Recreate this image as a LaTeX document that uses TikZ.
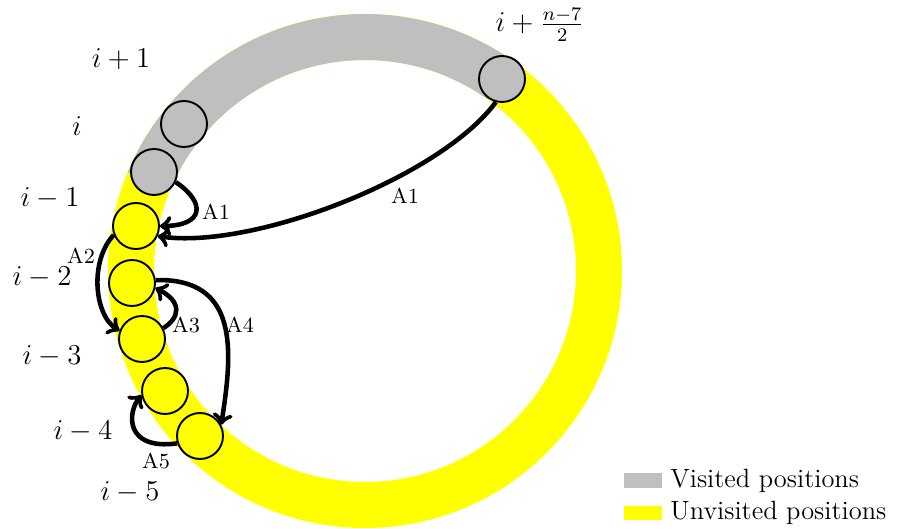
\documentclass[tikz,border=0pt]{standalone}
\definecolor{ringyellow}{RGB}{255,255,0}
\definecolor{ringgray}{RGB}{191,191,191}
\begin{document}
\begin{tikzpicture}[x=0.4167pt,y=-0.4167pt,
  posnode/.style={circle, draw=black, thick, minimum size=19.17pt, inner sep=0pt},
  visited/.style={posnode, fill=ringgray},
  unvisited/.style={posnode, fill=ringyellow},
  idx/.style={font=\fontsize{12}{14}\selectfont, inner sep=0pt},
  alab/.style={font=\fontsize{9}{11}\selectfont, inner sep=0pt},
  arr/.style={->, line width=1.9pt},
  legtext/.style={font=\fontsize{11}{13}\selectfont, anchor=base west, inner sep=0pt}]
\useasboundingbox (0,0) rectangle (897,529);
% ring
\fill[ringyellow, even odd rule] (365,271) circle[radius=257] (365,271) circle[radius=211];
\draw[ringgray, line width=19.17pt] (365,271) ++(-54.5:234) arc[start angle=-54.5, end angle=-157.5, radius=234];
% positions
\node[visited] (vtop) at (502,79) {};
\node[visited] (v1) at (184,124) {};
\node[visited] (v2) at (154,172) {};
\node[unvisited] (u1) at (136,226) {};
\node[unvisited] (u2) at (132,283) {};
\node[unvisited] (u3) at (142,339) {};
\node[unvisited] (u4) at (165,391) {};
\node[unvisited] (u5) at (200,436) {};
% index labels
\node[idx] (lip1) at (121,59) {$i+1$};
\node[idx] (li) at (77,126) {$i$};
\node[idx] (lim1) at (50,198) {$i-1$};
\node[idx] (lim2) at (42,277) {$i-2$};
\node[idx] (lim3) at (52,356) {$i-3$};
\node[idx] (lim4) at (83,431) {$i-4$};
\node[idx] (lim5) at (130,492) {$i-5$};
\node[idx] (ltop) at (540,25) {$i+\frac{n-7}{2}$};
% moves
\draw[arr] (v2.-25) .. controls +(30,20) and +(45,0) .. (u1.0);
\draw[arr] (vtop.-105) .. controls +(-55,75) and +(95,14) .. (u1.-25);
\draw[arr] (u1.-158) .. controls +(-24,25) and +(-26,-16) .. (u3.160);
\draw[arr] (u3.27) .. controls +(16,-10) and +(28,14) .. (u2.-12);
\draw[arr] (u2.7) .. controls +(83,-2) and +(12,-75) .. (u5.28);
\draw[arr] (u5.-162) .. controls +(-53,7) and +(-14,17) .. (u4.-170);
% move labels
\node[alab] (a1s) at (216,212) {A1};
\node[alab] (a1l) at (405,196) {A1};
\node[alab] (a2) at (81,256) {A2};
\node[alab] (a3) at (186,325) {A3};
\node[alab] (a4) at (240,325) {A4};
\node[alab] (a5) at (156,461) {A5};
% legend
\fill[ringgray] (624,473) rectangle (662,488);
\fill[ringyellow] (624,506) rectangle (662,520);
\node[legtext] (lv) at (670,488) {Visited positions};
\node[legtext] (lu) at (670,520) {Unvisited positions};
\end{tikzpicture}
\end{document}
